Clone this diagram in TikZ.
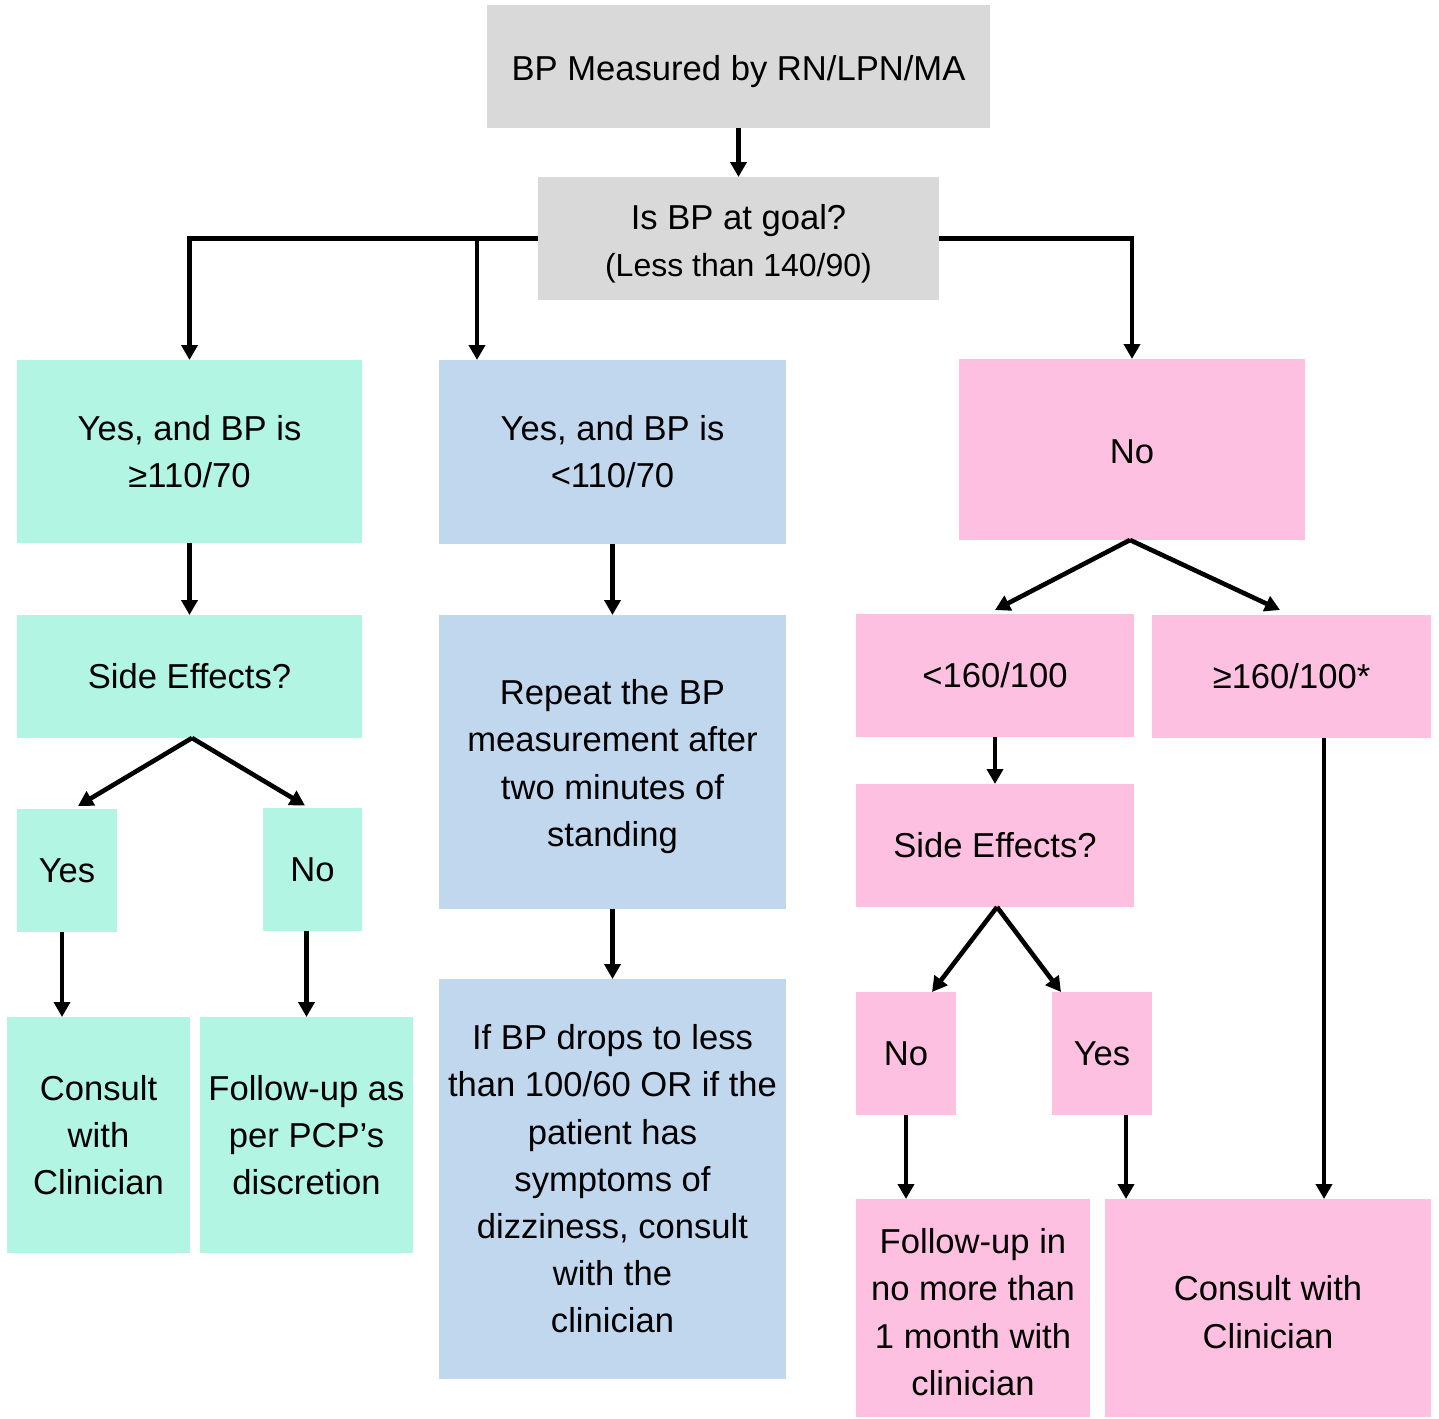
\documentclass[tikz,border=0pt]{standalone}
\usepackage{fontspec}
\setmainfont{Liberation Sans}
\usetikzlibrary{arrows.meta,calc}
\definecolor{cgray}{HTML}{D9D9D9}
\definecolor{cgreen}{HTML}{B1F5E2}
\definecolor{cblue}{HTML}{C1D7EE}
\definecolor{cpink}{HTML}{FEC0E0}
\newcommand\dntext[2]{\raisebox{-#1}[\height][\depth]{\begin{tabular}{@{}c@{}}#2\end{tabular}}}
\begin{document}
\begin{tikzpicture}[x=0.5pt,y=-0.5pt,
  box/.style={rectangle,inner sep=0pt,outer sep=0pt,align=center,
    font=\fontsize{17.3pt}{23.6pt}\selectfont},
  gbox/.style={box,fill=cgray},
  grbox/.style={box,fill=cgreen},
  blbox/.style={box,fill=cblue},
  pkbox/.style={box,fill=cpink},
  arr/.style={line width=2.3pt,-{Triangle[width=8pt,length=7.5pt]}},
  ln/.style={line width=2.3pt}]
\fill[white] (0,0) rectangle (1439,1418);
\useasboundingbox (0,0) rectangle (1439,1418);

\node[gbox,minimum width=251.5pt,minimum height=61.5pt] (top) at (738.5,66.5) {\dntext{2.25pt}{BP Measured by RN/LPN/MA}};
\node[gbox,minimum width=200.5pt,minimum height=61.5pt] (goal) at (738.5,238.5) {\dntext{2.5pt}{Is BP at goal?\\{\fontsize{16pt}{23.6pt}\selectfont (Less than 140/90)}}};

\node[grbox,minimum width=172.5pt,minimum height=91.5pt] (g1) at (189.5,451.5) {Yes, and BP is\\≥110/70};
\node[blbox,minimum width=173.5pt,minimum height=92pt] (b1) at (612.5,452) {Yes, and BP is\\<110/70};
\node[pkbox,minimum width=173pt,minimum height=90.5pt] (p1) at (1132,449.5) {\dntext{2.5pt}{No}};

\node[grbox,minimum width=172.5pt,minimum height=61.5pt] (gse) at (189.5,676.5) {Side Effects?};
\node[blbox,minimum width=173.5pt,minimum height=147pt] (brep) at (612.5,762) {\dntext{2pt}{Repeat the BP\\measurement after\\two minutes of\\standing}};
\node[pkbox,minimum width=139pt,minimum height=61.5pt] (plo) at (995,675.5) {<160/100};
\node[pkbox,minimum width=139.5pt,minimum height=61.5pt] (phi) at (1291.5,676.5) {≥160/100*};

\node[grbox,minimum width=50pt,minimum height=61.5pt] (gyes) at (67,870.5) {Yes};
\node[grbox,minimum width=49.5pt,minimum height=61.5pt] (gno) at (312.5,869.5) {No};
\node[pkbox,minimum width=139pt,minimum height=61.5pt] (pse) at (995,845.5) {Side Effects?};

\node[grbox,minimum width=91.5pt,minimum height=118pt] (gcon) at (98.5,1135) {Consult\\with\\Clinician};
\node[grbox,minimum width=106.5pt,minimum height=118pt] (gfol) at (306.5,1135) {Follow-up as\\per PCP’s\\discretion};
\node[blbox,minimum width=173.5pt,minimum height=200pt] (bif) at (612.5,1179) {If BP drops to less\\than 100/60 OR if the\\patient has\\symptoms of\\dizziness, consult\\with the\\clinician};
\node[pkbox,minimum width=50pt,minimum height=61.5pt] (pno) at (906,1053.5) {No};
\node[pkbox,minimum width=50pt,minimum height=61.5pt] (pyes) at (1102,1053.5) {Yes};
\node[pkbox,minimum width=117pt,minimum height=109pt] (pfol) at (973,1308) {\dntext{3.5pt}{Follow-up in\\no more than\\1 month with\\clinician}};
\node[pkbox,minimum width=163pt,minimum height=109pt] (pcon) at (1268,1308) {\dntext{3.5pt}{Consult with\\Clinician}};

% connectors
\draw[arr] (top.south) -- (goal.north);
\draw[arr] (goal.west) -| (g1.north);
\coordinate (j1) at (477,238.5);
\draw[arr] (j1) -- (j1 |- b1.north);
\draw[arr] (goal.east) -| (p1.north);

\draw[arr] (g1.south) -- (gse.north);
\draw[arr] (b1.south) -- (brep.north);
\draw[arr] (brep.south) -- (bif.north);

\draw[arr] ([xshift=1.25pt]gse.south) -- ([xshift=5.5pt,yshift=1.5pt]gyes.north);
\draw[arr] ([xshift=1.25pt]gse.south) -- ([xshift=-3.75pt,yshift=1.25pt]gno.north);
\draw[arr] ([xshift=-2.5pt]gyes.south) -- ([xshift=-2.5pt]gyes.south |- gcon.north);
\draw[arr] (gfol.north |- gno.south) -- (gfol.north);

\draw[arr] ([xshift=-1pt]p1.south) -- ([yshift=2pt]plo.north);
\draw[arr] ([xshift=-1pt]p1.south) -- ([xshift=-5.75pt,yshift=2.5pt]phi.north);
\draw[arr] (plo.south) -- (pse.north);
\draw[arr] ([xshift=1pt]pse.south) -- ([xshift=13pt]pno.north);
\draw[arr] ([xshift=1pt]pse.south) -- ([xshift=-20.5pt]pyes.north);
\draw[arr] (pno.south) -- (pno.south |- pfol.north);
\draw[arr] ([xshift=12pt]pyes.south) -- ([xshift=12pt]pyes.south |- pcon.north);
\draw[arr] ([xshift=16.25pt]phi.south) -- ([xshift=16.25pt]phi.south |- pcon.north);
\end{tikzpicture}
\end{document}
